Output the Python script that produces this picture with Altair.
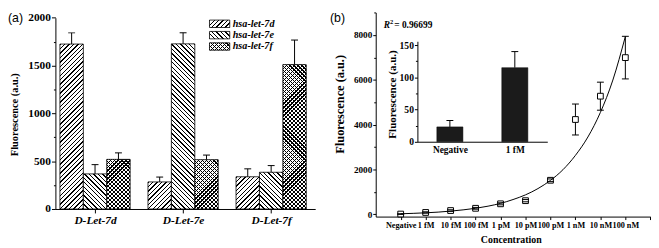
import json
import altair as alt
import pandas as pd

# ---------------- data ----------------
probes = ["D-Let-7d", "D-Let-7e", "D-Let-7f"]
targets = ["hsa-let-7d", "hsa-let-7e", "hsa-let-7f"]
let7d_vals = [1725, 283, 337]
let7e_vals = [367, 1727, 384]
let7f_vals = [519, 516, 1510]
let7d_err = [117, 51, 83]
let7e_err = [97, 116, 70]
let7f_err = [68, 48, 257]

conc_labels = ["Negative", "1 fM", "10 fM", "100 fM", "1 pM", "10 pM",
               "100 pM", "1 nM", "10 nM", "100 nM"]
conc_vals = [13, 85, 170, 270, 470, 610, 1520, 4230, 5270, 6990]
conc_err = [15, 30, 35, 40, 45, 50, 60, 690, 625, 950]

fit_x = [0, 0.5, 1, 1.5, 2, 2.5, 3, 3.5, 4, 4.5, 5, 5.5, 6, 6.5, 7, 7.5, 8, 8.5, 9]
fit_y = [26, 45, 69, 100, 145, 200, 270, 365, 490, 660, 870, 1150, 1515,
         1990, 2630, 3450, 4545, 5990, 7930]

inset_labels = ["Negative", "1 fM"]
inset_vals = [23, 115]
inset_err = [10, 25]

r2_value = "0.96699"
y_title = "Fluorescence (a.u.)"
x_title_b = "Concentration"
panel_tags = ["(a)", "(b)"]

# ---------------- layout ----------------
W, H = 651, 240
SERIF = "Liberation Serif"
SANS = "Liberation Sans"

A_XR = [48.0, 311.0]
A_XDOM = [0.55, 3.5]
A_YR = [202.0, 8.4]
A_YDOM = [0, 2000]
A_BAR_PX = 23.7
a_upx = (A_XR[1] - A_XR[0]) / (A_XDOM[1] - A_XDOM[0])
A_BW = A_BAR_PX / a_upx
a_ppv = (A_YR[0] - A_YR[1]) / (A_YDOM[1] - A_YDOM[0])

B_XR = [372.3, 650.3]
B_XDOM = [-1, 10]
B_YR = [209.7, 3.1]
B_YDOM = [-100, 9000]

I_XR = [414.5, 546.0]
I_XDOM = [-0.5, 1.5]
I_YR = [133.9, 32.2]
I_YDOM = [0, 156]
I_BAR_PX = 26.4
i_upx = (I_XR[1] - I_XR[0]) / (I_XDOM[1] - I_XDOM[0])
I_BW = I_BAR_PX / i_upx


def hatch(w, h, kind, period=4.5, frac=0.3, bg="white", fg="black"):
    n = (w + h) / period
    k = (w + h) / (w * w + h * h)
    if kind == "/":
        x1, y1, x2, y2 = 0, 0, k * w, k * h
    else:
        x1, y1, x2, y2 = 0, 1, k * w, 1 - k * h
    stops = []
    j = 0
    while j / n < 1:
        o0 = j / n
        o1 = min((j + frac) / n, 1)
        o2 = min((j + 1) / n, 1)
        stops += [(o0, fg), (o1, fg), (o1, bg), (o2, bg)]
        j += 1
    return alt.LinearGradient(
        gradient="linear",
        stops=[alt.GradientStop(offset=round(o, 5), color=c) for o, c in stops],
        x1=x1, y1=y1, x2=x2, y2=y2,
    )


def axis(orient, offset, values, label_expr, size, major_test=None, major=4,
         minor=2, pad=2, style="normal", ticks=True):
    kw = dict(
        orient=orient, offset=offset, values=values, labelExpr=label_expr,
        title=None, grid=False, domainColor="black", domainWidth=1,
        tickColor="black", tickWidth=1, labelFont=SERIF, labelFontWeight="bold",
        labelFontStyle=style, labelFontSize=size, labelColor="black",
        labelPadding=pad, labelOverlap=False, labelFlush=False, format="d",
        ticks=ticks,
    )
    if ticks:
        if major_test:
            kw["tickSize"] = {"condition": {"test": major_test, "value": major},
                              "value": minor}
        else:
            kw["tickSize"] = major
    else:
        kw["tickSize"] = 0
    return alt.Axis(**kw)


dummy = alt.Data(values=[{"k": 0}])


def text(s, x, y, size, font=SERIF, weight="bold", style="normal", angle=0,
         align="left", baseline="middle"):
    return alt.Chart(dummy).mark_text(
        text=s, fontSize=size, font=font, fontWeight=weight, fontStyle=style,
        angle=angle, align=align, baseline=baseline, color="black",
    ).encode(x=alt.value(x), y=alt.value(y))


# ---------------- panel (a) ----------------
xa = alt.Scale(domain=A_XDOM, range=A_XR, nice=False, zero=False)
ya = alt.Scale(domain=A_YDOM, range=A_YR, nice=False, zero=False)
axa_x = axis("bottom", A_YR[0] - H, [1, 1.5, 2, 2.5, 3],
             f"datum.value % 1 === 0 ? {json.dumps(probes)}[datum.value - 1] : ''",
             11.5, major=4, pad=2, style="italic")
axa_y = axis("left", -A_XR[0], list(range(0, 2001, 250)),
             "datum.value % 500 === 0 ? datum.label : ''", 11.5,
             major_test="datum.value % 500 === 0", major=4, minor=2, pad=1)

series = [(let7d_vals, let7d_err), (let7e_vals, let7e_err), (let7f_vals, let7f_err)]
a_layers = []
err_rows = []
for k, (vals, errs) in enumerate(series):
    for g in range(3):
        c = g + 1 + (k - 1) * A_BW
        v = vals[g]
        row = {"xl": c - A_BW / 2, "xr": c + A_BW / 2, "v": v, "base": 0,
               "target": targets[k], "probe": probes[g]}
        h = v * a_ppv
        enc = dict(x=alt.X("xl:Q", scale=xa, axis=axa_x), x2="xr:Q",
                   y=alt.Y("v:Q", scale=ya, axis=axa_y), y2="base:Q")
        df = pd.DataFrame([row])
        if k == 0:
            grads = [(hatch(A_BAR_PX, h, "/"), True)]
        elif k == 1:
            grads = [(hatch(A_BAR_PX, h, "\\"), True)]
        else:
            grads = [(hatch(A_BAR_PX, h, "/", period=4.0, frac=0.3), True),
                     (hatch(A_BAR_PX, h, "\\", period=4.0, frac=0.3,
                            bg="rgba(0,0,0,0)"), False)]
        for grad, stroke in grads:
            mk = dict(fill=grad)
            if stroke:
                mk.update(stroke="black", strokeWidth=0.8)
            else:
                mk.update(strokeWidth=0)
            a_layers.append(alt.Chart(df).mark_bar(**mk).encode(**enc))
        err_rows.append({"c": c, "v": v, "top": v + errs[g]})

err_df = pd.DataFrame(err_rows)
a_err_rule = alt.Chart(err_df).mark_rule(color="black", strokeWidth=1).encode(
    x=alt.X("c:Q", scale=xa, axis=axa_x),
    y=alt.Y("v:Q", scale=ya, axis=axa_y), y2="top:Q")
a_err_cap = alt.Chart(err_df).mark_tick(
    orient="horizontal", size=7, thickness=1, color="black", opacity=1).encode(
    x=alt.X("c:Q", scale=xa, axis=axa_x),
    y=alt.Y("top:Q", scale=ya, axis=axa_y))
panel_a = alt.layer(*a_layers, a_err_rule, a_err_cap)

# ---------------- panel (b) ----------------
xb = alt.Scale(domain=B_XDOM, range=B_XR, nice=False, zero=False)
yb = alt.Scale(domain=B_YDOM, range=B_YR, nice=False, zero=False)
axb_x = axis("bottom", B_YR[0] - H, list(range(0, 11)),
             f"{json.dumps(conc_labels)}[datum.value] || ''", 8.3,
             major=3, pad=1)
axb_y = axis("left", -B_XR[0], list(range(0, 9001, 1000)),
             "datum.value % 2000 === 0 ? datum.label : ''", 9.3,
             major_test="datum.value % 2000 === 0", major=3, minor=2, pad=1)

b_df = pd.DataFrame({"i": list(range(len(conc_vals))), "v": conc_vals,
                     "lo": [v - e for v, e in zip(conc_vals, conc_err)],
                     "hi": [v + e for v, e in zip(conc_vals, conc_err)]})
fit_df = pd.DataFrame({"i": fit_x, "v": fit_y})
bx = alt.X("i:Q", scale=xb, axis=axb_x)
b_rule = alt.Chart(b_df).mark_rule(color="black", strokeWidth=1).encode(
    x=bx, y=alt.Y("lo:Q", scale=yb, axis=axb_y), y2="hi:Q")
b_pts = alt.Chart(b_df).mark_point(
    shape="square", size=34, filled=True, fill="white", stroke="black",
    strokeWidth=1, opacity=1).encode(x=bx, y=alt.Y("v:Q", scale=yb, axis=axb_y))
b_cap_hi = alt.Chart(b_df).mark_tick(
    orient="horizontal", size=7, thickness=1, color="black", opacity=1).encode(
    x=bx, y=alt.Y("hi:Q", scale=yb, axis=axb_y))
b_cap_lo = alt.Chart(b_df).mark_tick(
    orient="horizontal", size=7, thickness=1, color="black", opacity=1).encode(
    x=bx, y=alt.Y("lo:Q", scale=yb, axis=axb_y))
b_fit = alt.Chart(fit_df).mark_line(
    color="black", strokeWidth=1, interpolate="monotone").encode(
    x=bx, y=alt.Y("v:Q", scale=yb, axis=axb_y))
panel_b = alt.layer(b_rule, b_pts, b_cap_hi, b_cap_lo, b_fit)

# ---------------- inset ----------------
xi = alt.Scale(domain=I_XDOM, range=I_XR, nice=False, zero=False)
yi = alt.Scale(domain=I_YDOM, range=I_YR, nice=False, zero=False)
axi_x = axis("bottom", I_YR[0] - H, [0, 1],
             f"{json.dumps(inset_labels)}[datum.value] || ''", 9.5,
             pad=3, ticks=False)
axi_y = axis("left", -I_XR[0], list(range(0, 151, 25)),
             "datum.value % 50 === 0 ? datum.label : ''", 9.7,
             major_test="datum.value % 50 === 0", major=3, minor=2, pad=1)
i_df = pd.DataFrame({"i": [0, 1], "name": inset_labels, "v": inset_vals,
                     "base": [0, 0],
                     "xl": [i - I_BW / 2 for i in (0, 1)],
                     "xr": [i + I_BW / 2 for i in (0, 1)],
                     "hi": [v + e for v, e in zip(inset_vals, inset_err)]})
i_bars = alt.Chart(i_df).mark_bar(fill="#1b1b1b", stroke="black", strokeWidth=0.5).encode(
    x=alt.X("xl:Q", scale=xi, axis=axi_x), x2="xr:Q",
    y=alt.Y("v:Q", scale=yi, axis=axi_y), y2="base:Q")
i_rule = alt.Chart(i_df).mark_rule(color="black", strokeWidth=1).encode(
    x=alt.X("i:Q", scale=xi, axis=axi_x),
    y=alt.Y("v:Q", scale=yi, axis=axi_y), y2="hi:Q")
i_cap = alt.Chart(i_df).mark_tick(
    orient="horizontal", size=7, thickness=1, color="black", opacity=1).encode(
    x=alt.X("i:Q", scale=xi, axis=axi_x),
    y=alt.Y("hi:Q", scale=yi, axis=axi_y))
inset = alt.layer(i_bars, i_rule, i_cap)

# ---------------- legend & annotations ----------------
SW_X0, SW_X1 = 204.0, 224.5
SW_H = 7.5
legend_rows_y = [14.5, 26.0, 37.5]
legend_layers = []
for k, yc in enumerate(legend_rows_y):
    sw_w = SW_X1 - SW_X0
    if k == 0:
        grads = [(hatch(sw_w, SW_H, "/"), True)]
    elif k == 1:
        grads = [(hatch(sw_w, SW_H, "\\"), True)]
    else:
        grads = [(hatch(sw_w, SW_H, "/", period=4.0), True),
                 (hatch(sw_w, SW_H, "\\", period=4.0, bg="rgba(0,0,0,0)"), False)]
    for grad, stroke in grads:
        mk = dict(fill=grad)
        if stroke:
            mk.update(stroke="black", strokeWidth=0.8)
        else:
            mk.update(strokeWidth=0)
        legend_layers.append(
            alt.Chart(dummy).mark_rect(**mk).encode(
                x=alt.value(SW_X0), x2=alt.value(SW_X1),
                y=alt.value(yc - SW_H / 2), y2=alt.value(yc + SW_H / 2)))
    legend_layers.append(text(targets[k], 227.5, yc, 10.3, style="italic"))

texts = [
    text(panel_tags[0], 0, 9.0, 12.5, font=SANS, weight="normal"),
    text(panel_tags[1], 326.0, 9.0, 12.5, font=SANS, weight="normal"),
    text(y_title, 7.0, 106.5, 10.5, angle=270, align="center"),
    text(y_title, 336.0, 96.0, 12.5, angle=270, align="center"),
    text(y_title, 389.5, 86.0, 11.2, angle=270, align="center"),
    text(x_title_b, 509.5, 233.0, 10.0, align="center"),
    text("R", 380.4, 16.2, 9.5, style="italic"),
    text("2", 386.8, 12.6, 6.5),
    text("= " + r2_value, 391.0, 16.2, 9.5),
]

chart = alt.layer(panel_a, panel_b, inset, *legend_layers, *texts).resolve_scale(
    x="independent", y="independent"
).properties(
    width=W, height=H, padding=0,
    autosize=alt.AutoSizeParams(type="none"),
    background="white",
).configure_view(stroke=None)

chart.save("out.html", embed_options={"renderer": "svg", "actions": False})
